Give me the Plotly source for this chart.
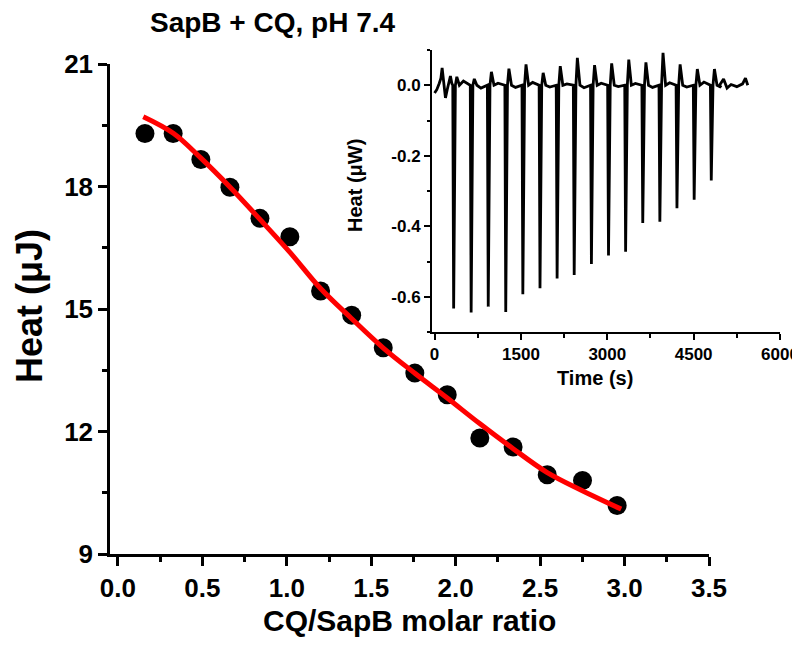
import plotly.graph_objects as go

# main panel: integrated heats
ratio = [0.16, 0.327, 0.491, 0.663, 0.841, 1.018, 1.20, 1.384, 1.571, 1.758, 1.950, 2.143, 2.340, 2.542, 2.751, 2.956]
heat = [19.30, 19.30, 18.66, 17.98, 17.22, 16.77, 15.44, 14.85, 14.05, 13.43, 12.90, 11.84, 11.62, 10.94, 10.80, 10.19]

fit_ratio = [0.15, 0.33, 0.49, 0.66, 0.84, 1.02, 1.20, 1.38, 1.57, 1.76, 1.95, 2.14, 2.34, 2.54, 2.75, 2.98]
fit_heat = [19.71, 19.30, 18.70, 18.00, 17.20, 16.38, 15.50, 14.78, 14.05, 13.42, 12.82, 12.20, 11.58, 11.00, 10.55, 10.10]

# inset: raw thermogram
start_t = [0, 40, 80, 110, 131, 160, 189, 220, 250, 275, 300]
start_h = [-0.022, -0.012, 0.005, 0.02, 0.049, -0.005, -0.036, -0.012, 0.015, 0.026, 0.005]
inj_time = [331, 635, 932, 1236, 1533, 1831, 2128, 2425, 2724, 3021, 3318, 3616, 3913, 4210, 4509, 4806]
inj_min = [-0.633, -0.645, -0.628, -0.643, -0.593, -0.576, -0.548, -0.538, -0.507,
           -0.483, -0.472, -0.391, -0.387, -0.349, -0.325, -0.270]
overshoot = [0.024, 0.018, 0.038, 0.047, 0.059, 0.035, 0.054, 0.078, 0.057,
             0.062, 0.073, 0.065, 0.092, 0.059, 0.046, 0.046]
# small baseline wobble between injections
wobble = [0.012, -0.008, 0.006, -0.006, 0.008, -0.005, 0.004, -0.007, 0.006,
          -0.004, 0.005, -0.006, 0.007, -0.005, 0.009, -0.006]
end_t = [4950, 5020, 5080, 5150, 5250, 5350, 5400, 5440]
end_h = [0.0, 0.018, -0.008, 0.002, -0.004, 0.004, 0.02, 0.0]

x_ticks = [0, 0.5, 1.0, 1.5, 2.0, 2.5, 3.0, 3.5]
y_ticks = [9, 12, 15, 18, 21]
inset_xticks = [0, 1500, 3000, 4500, 6000]
inset_yticks = [-0.6, -0.4, -0.2, 0.0]
inset_ylabels = ["-0.6", "-0.4", "-0.2", "0.0"]

W, H = 800, 649
PAGE_PAD = 8  # default body margin of the html page
FONT = "Liberation Sans, Arial, sans-serif"

# build the thermogram polyline from the read peaks
trace_t = list(start_t)
trace_h = list(start_h)
for t, lo, hi, wb in zip(inj_time, inj_min, overshoot, wobble):
    trace_t += [t - 15, t, t + 30, t + 55, t + 100, t + 170]
    trace_h += [0.0, lo, 0.0, hi, 0.0, wb]
trace_t += end_t
trace_h += end_h

fig = go.Figure()

fig.add_trace(go.Scatter(
    x=ratio, y=heat, mode="markers",
    marker=dict(color="black", size=19, line=dict(width=0)),
    showlegend=False,
))
fig.add_trace(go.Scatter(
    x=fit_ratio, y=fit_heat, mode="lines",
    line=dict(color="#ff0000", width=5, shape="spline"),
    showlegend=False,
))
fig.add_trace(go.Scatter(
    x=trace_t, y=trace_h, mode="lines",
    line=dict(color="black", width=2.8),
    xaxis="x2", yaxis="y2", showlegend=False,
))


# screen pixel -> paper fraction
def px(x):
    return (x - PAGE_PAD) / W


def py(y):
    return 1 - (y - PAGE_PAD) / H


main_axis = dict(
    showline=True, linecolor="black", linewidth=2.5,
    ticks="outside", ticklen=9, tickwidth=2.5, tickcolor="black",
    showgrid=False, zeroline=False, automargin=False,
    tickfont=dict(family=FONT, size=26, color="black", weight="bold"),
)
inset_axis = dict(
    showline=True, linecolor="black", linewidth=2,
    ticks="outside", ticklen=6, tickwidth=2, tickcolor="black",
    showgrid=False, zeroline=False, automargin=False,
    tickfont=dict(family=FONT, size=17, color="black", weight="bold"),
)

fig.update_layout(
    width=W, height=H,
    margin=dict(l=0, r=0, t=0, b=0),
    paper_bgcolor="white", plot_bgcolor="rgba(0,0,0,0)",
    xaxis=dict(
        main_axis, domain=[px(110), px(709)], range=[-0.047, 3.5],
        tickvals=x_ticks, ticktext=[f"{v:.1f}" for v in x_ticks],
        minor=dict(dtick=0.25, tick0=0, ticklen=5, tickwidth=2.5, tickcolor="black"),
        anchor="y",
    ),
    yaxis=dict(
        main_axis, domain=[py(554), py(64)], range=[9, 21],
        tickvals=y_ticks,
        minor=dict(dtick=1.5, tick0=9, ticklen=5, tickwidth=2.5, tickcolor="black"),
        anchor="x",
    ),
    xaxis2=dict(
        inset_axis, domain=[px(432), px(780)], range=[-45, 6000],
        tickvals=inset_xticks,
        minor=dict(dtick=750, tick0=0, ticklen=3.5, tickwidth=2, tickcolor="black"),
        anchor="y2",
    ),
    yaxis2=dict(
        inset_axis, domain=[py(332), py(50)], range=[-0.7, 0.1],
        tickvals=inset_yticks, ticktext=inset_ylabels,
        minor=dict(dtick=0.1, tick0=0, ticklen=3.5, tickwidth=2, tickcolor="black"),
        anchor="x2",
    ),
)

bold = dict(family=FONT, color="black", weight="bold")
fig.add_annotation(text="SapB + CQ, pH 7.4", x=px(148), y=py(23), xref="paper", yref="paper",
                   xanchor="left", yanchor="middle", showarrow=False, font=dict(bold, size=28))
fig.add_annotation(text="CQ/SapB molar ratio", x=px(410), y=py(620), xref="paper", yref="paper",
                   xanchor="center", yanchor="middle", showarrow=False, font=dict(bold, size=30))
fig.add_annotation(text="Heat (μJ)", x=px(30), y=py(306), xref="paper", yref="paper",
                   xanchor="center", yanchor="middle", textangle=-90, showarrow=False,
                   font=dict(bold, size=36))
fig.add_annotation(text="Time (s)", x=px(595), y=py(378), xref="paper", yref="paper",
                   xanchor="center", yanchor="middle", showarrow=False, font=dict(bold, size=20))
fig.add_annotation(text="Heat (μW)", x=px(355), y=py(186), xref="paper", yref="paper",
                   xanchor="center", yanchor="middle", textangle=-90, showarrow=False,
                   font=dict(bold, size=20))

fig.write_html("out.html")
